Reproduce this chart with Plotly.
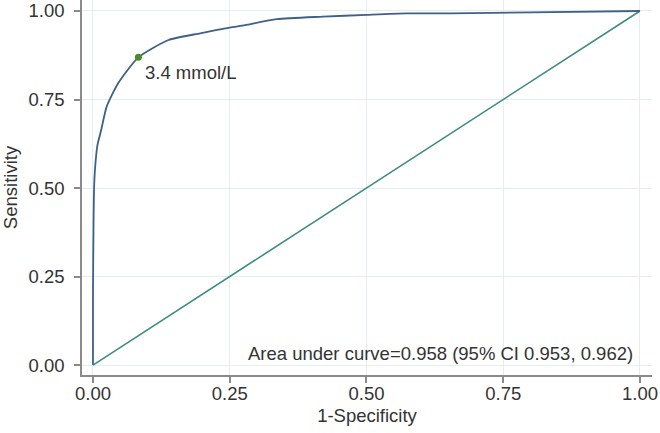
import plotly.graph_objects as go

# ROC curve points
fpr = [0.0, 0.0, 0.001, 0.002, 0.004, 0.008, 0.015, 0.025, 0.046, 0.083, 0.138,
       0.196, 0.25, 0.278, 0.336, 0.42, 0.5, 0.573, 0.653, 0.8, 1.0]
tpr = [0.0, 0.2, 0.40, 0.50, 0.56, 0.62, 0.664, 0.73, 0.796, 0.869, 0.918,
       0.937, 0.953, 0.96, 0.977, 0.984, 0.989, 0.993, 0.993, 0.996, 1.0]
ref_x = [0.0, 1.0]
ref_y = [0.0, 1.0]
cut_x = [0.083]
cut_y = [0.869]
cut_label = "3.4 mmol/L"
auc_text = "Area under curve=0.958 (95% CI 0.953, 0.962)"
ticks = [0.0, 0.25, 0.5, 0.75, 1.0]
tick_text = ["0.00", "0.25", "0.50", "0.75", "1.00"]

FONT = "Liberation Sans, Arial, sans-serif"
TXT = "#333333"

fig = go.Figure()
fig.add_trace(go.Scatter(x=ref_x, y=ref_y, mode="lines",
                         line=dict(color="#3f8c82", width=1.6), hoverinfo="skip"))
fig.add_trace(go.Scatter(x=fpr, y=tpr, mode="lines",
                         line=dict(color="#3d6189", width=1.8, shape="spline", smoothing=0.6)))
fig.add_trace(go.Scatter(x=cut_x, y=cut_y, mode="markers",
                         marker=dict(color="#4f8a2a", size=7)))

fig.add_annotation(x=cut_x[0] + 0.008, y=cut_y[0] - 0.044, text=cut_label,
                   showarrow=False, xanchor="left", yanchor="middle",
                   font=dict(family=FONT, size=18.5, color=TXT))
fig.add_annotation(x=0.99, y=0.034, text=auc_text, showarrow=False,
                   xanchor="right", yanchor="middle",
                   font=dict(family=FONT, size=18.5, color=TXT))

axis_common = dict(
    tickmode="array", tickvals=ticks, ticktext=tick_text,
    showgrid=True, gridcolor="#e4eef1", gridwidth=1,
    showline=True, linecolor="#8a8a8a", linewidth=1.5,
    ticks="outside", ticklen=6, tickcolor="#8a8a8a", tickwidth=1.5,
    zeroline=False,
    tickfont=dict(family=FONT, size=18.5, color=TXT),
    title_font=dict(family=FONT, size=18.5, color=TXT),
)

fig.update_layout(
    width=660, height=433,
    margin=dict(l=82, r=8, t=0, b=58),
    paper_bgcolor="white", plot_bgcolor="white",
    showlegend=False,
    xaxis=dict(range=[-0.0201, 1.022], title=dict(text="1-Specificity", standoff=6),
               ticklabelstandoff=-5, **axis_common),
    yaxis=dict(range=[-0.028, 1.031], title=dict(text="Sensitivity", standoff=8),
               ticklabelstandoff=6, **axis_common),
)

fig.write_html("out.html", config={"displayModeBar": False},
               post_script="document.body.style.margin='0px';")
